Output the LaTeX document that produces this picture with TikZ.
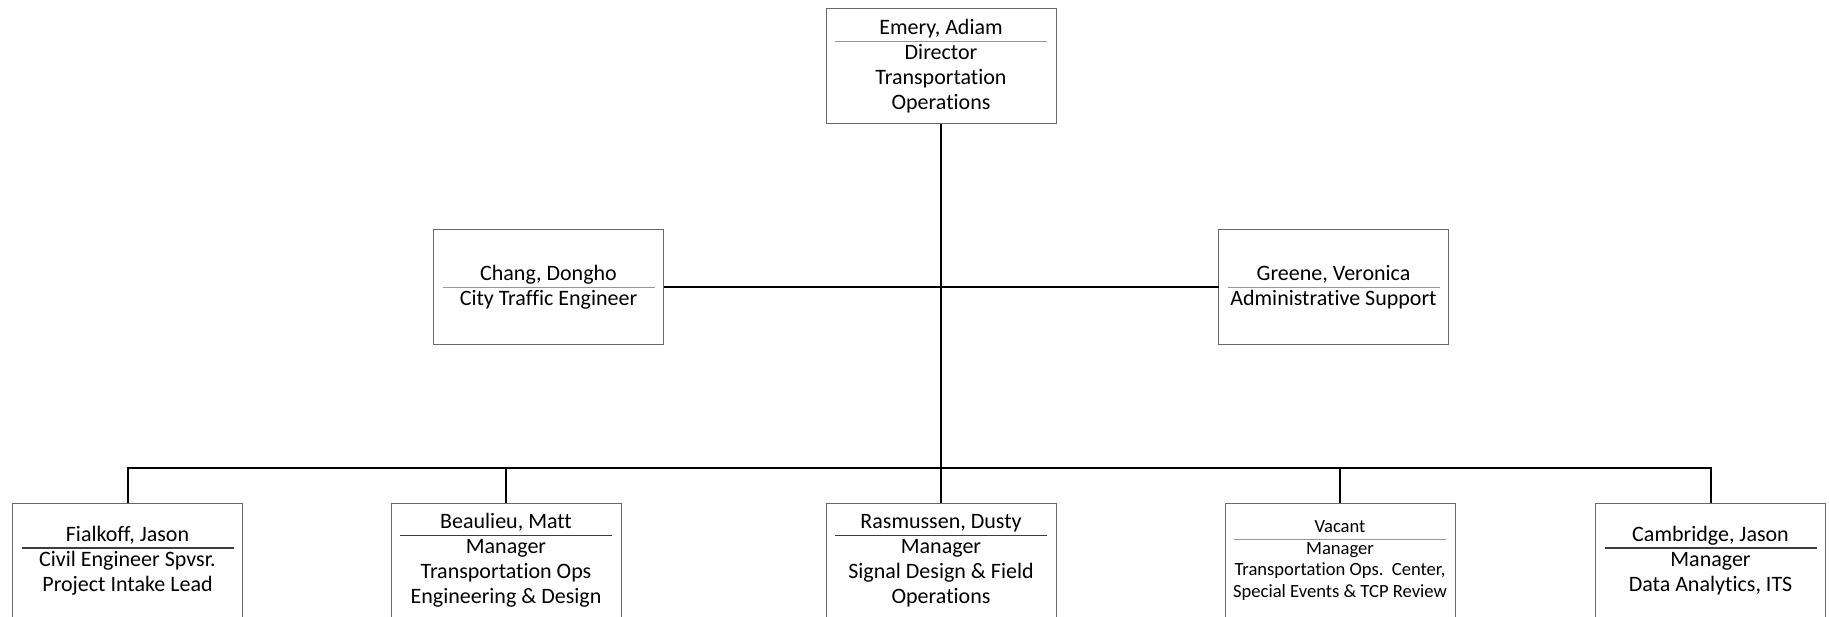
\documentclass[tikz,border=0pt]{standalone}
\usepackage{fontspec}
\setmainfont{Carlito}[Ligatures={NoCommon}]
\usepackage{xcolor}
\usepackage{tikz}
\usetikzlibrary{positioning}

\definecolor{boxgray}{RGB}{105,105,105}
\definecolor{sepgray}{RGB}{150,150,150}
\definecolor{sepdark}{RGB}{60,60,60}

\begin{document}
\begin{tikzpicture}[node distance=1.5cm, thick]
    % Styles
    \tikzstyle{card} = [rectangle, draw=boxgray, line width=0.5pt, minimum width=115pt, minimum height=57.5pt, inner sep=0pt, outer sep=0pt, align=center, font=\fontsize{11}{12.5}\selectfont]
    \tikzstyle{smallcard} = [card, font=\fontsize{9.3}{10.7}\selectfont]
    \tikzstyle{link} = [draw, black, line width=1pt]
    \tikzstyle{divider} = [draw=sepgray, line width=0.6pt]
    \tikzstyle{darkdivider} = [draw=sepdark, line width=0.6pt]

    \useasboundingbox (0,0) rectangle (914.5pt,308pt);

    % Nodes
    \node [card] (director) at (470.5pt,274.75pt) {Emery, Adiam\\Director\\Transportation\\Operations};
    \node [card] (chang) at (274.25pt,164.25pt) {Chang, Dongho\\City Traffic Engineer};
    \node [card] (greene) at (666.75pt,164.25pt) {Greene, Veronica\\Administrative Support};
    \node [card, below=189.5pt of director] (rasmussen) {Rasmussen, Dusty\\Manager\\Signal Design \& Field\\Operations};
    \node [card, left=102.5pt of rasmussen] (beaulieu) {Beaulieu, Matt\\Manager\\Transportation Ops\\Engineering \& Design};
    \node [card, left=74.25pt of beaulieu] (fialkoff) {Fialkoff, Jason\\Civil Engineer Spvsr.\\Project Intake Lead};
    \node [smallcard, right=84.5pt of rasmussen] (vacant) {Vacant\\Manager\\Transportation Ops.\ \ Center,\\Special Events \& TCP Review};
    \node [card, right=70.25pt of vacant] (cambridge) {Cambridge, Jason\\Manager\\Data Analytics, ITS};

    % Dividers
    \draw [divider] ([xshift=4.5pt,yshift=12.5pt]director.west) -- ([xshift=-4.5pt,yshift=12.5pt]director.east);
    \draw [divider] ([xshift=4.5pt]chang.west) -- ([xshift=-4.5pt]chang.east);
    \draw [divider] ([xshift=4.5pt]greene.west) -- ([xshift=-4.5pt]greene.east);
    \draw [darkdivider] ([xshift=4.5pt,yshift=6.25pt]fialkoff.west) -- ([xshift=-4.5pt,yshift=6.25pt]fialkoff.east);
    \draw [darkdivider] ([xshift=4.5pt,yshift=12.5pt]beaulieu.west) -- ([xshift=-4.5pt,yshift=12.5pt]beaulieu.east);
    \draw [darkdivider] ([xshift=4.5pt,yshift=12.5pt]rasmussen.west) -- ([xshift=-4.5pt,yshift=12.5pt]rasmussen.east);
    \draw [divider] ([xshift=4.5pt,yshift=10.7pt]vacant.west) -- ([xshift=-4.5pt,yshift=10.7pt]vacant.east);
    \draw [darkdivider] ([xshift=4.5pt,yshift=6.25pt]cambridge.west) -- ([xshift=-4.5pt,yshift=6.25pt]cambridge.east);

    % Edges
    \coordinate (bus) at (470.5pt,74pt);
    \draw [link] (director) -- (rasmussen);
    \draw [link] (chang) -- (greene);
    \draw [link] (fialkoff.north) |- (bus) -| (cambridge.north);
    \draw [link] (beaulieu.north) -- (beaulieu.north |- bus);
    \draw [link] (vacant.north) -- (vacant.north |- bus);
\end{tikzpicture}
\end{document}
